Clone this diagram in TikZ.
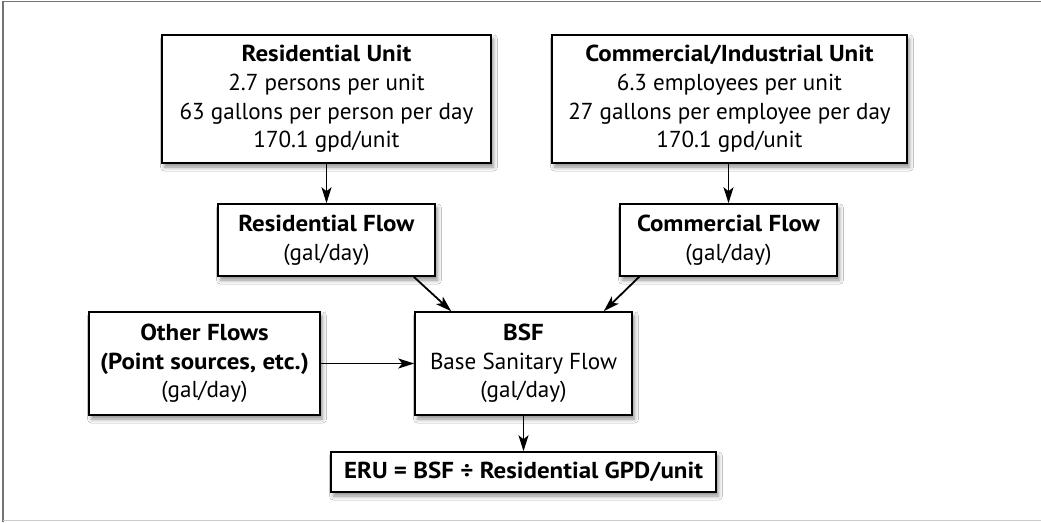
\documentclass[tikz,border=0pt]{standalone}
\usepackage{fontspec}
\setmainfont{PT Sans}[BoldFeatures={FakeStretch=1.08}]
\usetikzlibrary{arrows.meta,shadows.blur}
\begin{document}
\begin{tikzpicture}[x=1pt,y=-1pt,
  box/.style={draw=black,line width=1.5pt,fill=white,align=center,inner sep=0pt,
    font=\fontsize{23.1}{28.7}\selectfont,
    blur shadow={shadow xshift=2.5pt,shadow yshift=-4pt,shadow blur radius=4pt,shadow opacity=45}},
  arr/.style={line width=1.8pt,-{Stealth[length=16pt,width=10pt,inset=4pt]}}]
\useasboundingbox (0,0) rectangle (1041,522);
\fill[white] (0,0) rectangle (1041,522);
\draw[gray!90!black,line width=1.3pt] (3,522) -- (3,1.5) -- (1041,1.5);
\draw[gray!40,line width=1.3pt] (3,520.5) -- (1041,520.5);

\node[box,minimum width=329pt,minimum height=128pt] (ru) at (326.5,99)
  {\textbf{Residential Unit}\\2.7 persons per unit\\63 gallons per person per day\\170.1 gpd/unit};
\node[box,minimum width=355pt,minimum height=128pt] (cu) at (729.5,99)
  {\textbf{Commercial/Industrial Unit}\\6.3 employees per unit\\27 gallons per employee per day\\170.1 gpd/unit};
\node[box,minimum width=217pt,minimum height=72pt] (rf) at (326.5,240)
  {\textbf{Residential Flow}\\(gal/day)};
\node[box,minimum width=217pt,minimum height=72pt] (cf) at (728.5,240)
  {\textbf{Commercial Flow}\\(gal/day)};
\node[box,minimum width=231pt,minimum height=103pt] (of) at (204.5,363.5)
  {\textbf{Other Flows}\\\textbf{(Point sources, etc.)}\\(gal/day)};
\node[box,minimum width=217pt,minimum height=103pt] (bsf) at (523.5,363.5)
  {\textbf{BSF}\\Base Sanitary Flow\\(gal/day)};
\node[box,minimum width=385pt,minimum height=40pt] (eru) at (523.5,472)
  {\textbf{ERU = BSF ÷ Residential GPD/unit}};

\draw[arr] (ru.south) -- (rf.north);
\draw[arr] (cu.south-|cf.north) -- (cf.north);
\draw[arr] ([xshift=-22pt]rf.south east) -- ([xshift=37pt]bsf.north west);
\draw[arr] ([xshift=20pt]cf.south west) -- ([xshift=-29pt]bsf.north east);
\draw[arr] (of.east) -- (bsf.west);
\draw[arr] (bsf.south) -- (eru.north);
\end{tikzpicture}
\end{document}
